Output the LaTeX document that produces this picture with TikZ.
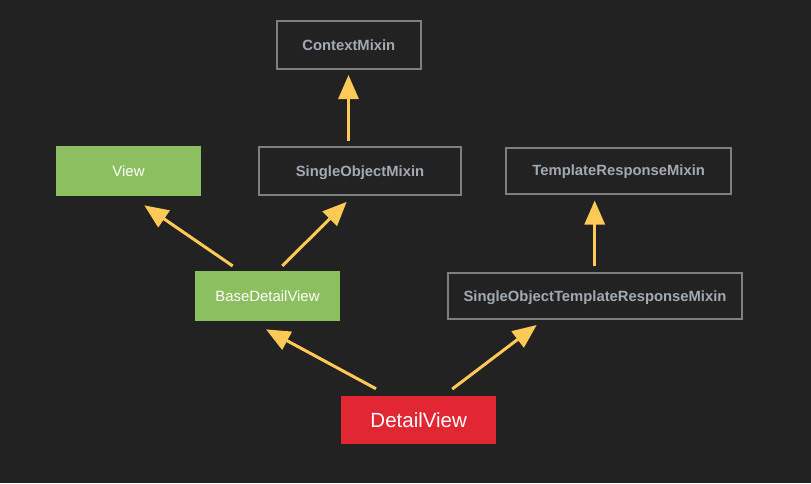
\documentclass[tikz,border=0pt]{standalone}
\usepackage{fontspec}
\setmainfont{Liberation Sans}
\usetikzlibrary{arrows.meta,calc}
\definecolor{bg}{HTML}{222222}
\definecolor{boxgray}{HTML}{7F7F7F}
\definecolor{txtgray}{HTML}{A2AAB2}
\definecolor{grn}{HTML}{8CBF5F}
\definecolor{rd}{HTML}{E32732}
\definecolor{ylw}{HTML}{FFC955}
\begin{document}
\begin{tikzpicture}[x=1pt,y=-1pt,
  graybox/.style={draw=boxgray,line width=2pt,fill=bg,text=txtgray,
    font=\fontsize{14.8}{18}\selectfont\bfseries,inner sep=0pt,
    text height=10.6pt,text depth=0pt},
  greenbox/.style={fill=grn,text=white,font=\fontsize{14.9}{18}\selectfont,
    minimum width=145pt,minimum height=49.7pt,inner sep=0pt,
    text height=10.7pt,text depth=0pt},
  redbox/.style={fill=rd,text=white,font=\fontsize{20.5}{24}\selectfont,
    minimum width=155.3pt,minimum height=47.7pt,inner sep=0pt,
    text height=14.7pt,text depth=0pt},
  arr/.style={draw=ylw,line width=3pt,-{Triangle[length=24pt,width=20pt]}}]
\fill[bg] (0,0) rectangle (811,483);
\useasboundingbox (0,0) rectangle (811,483);

\node[graybox,minimum width=143.7pt,minimum height=48pt] (ctx) at (348.8,45) {ContextMixin};
\node[greenbox] (view) at (128.5,171) {View};
\node[graybox,minimum width=201.4pt,minimum height=47.7pt] (som) at (360,171) {SingleObjectMixin};
\node[graybox,minimum width=225.3pt,minimum height=46pt] (trm) at (618.7,170.5) {TemplateResponseMixin};
\node[greenbox] (bdv) at (267.5,296) {BaseDetailView};
\node[graybox,minimum width=294.6pt,minimum height=46pt] (sotrm) at (595,296.3) {SingleObjectTemplateResponseMixin};
\node[redbox] (dv) at (418.7,419.8) {DetailView};

\draw[arr] ($(som.north)+(-11.5,-5)$) -- ($(ctx.south)+(-0.3,5)$);
\draw[arr] ($(bdv.north)+(-34.8,-5)$) -- ($(view.south)+(15.8,9.3)$);
\draw[arr] ($(bdv.north)+(14.8,-5)$) -- ($(som.south)+(-13.3,6)$);
\draw[arr] ($(sotrm.north)+(-0.3,-6)$) -- ($(trm.south)+(-24,6)$);
\draw[arr] ($(dv.north)+(-42.7,-7)$) -- ($(bdv.south)+(-1.5,8.3)$);
\draw[arr] ($(dv.north)+(33.5,-6.7)$) -- ($(sotrm.south)+(-58.3,4.7)$);
\end{tikzpicture}
\end{document}
